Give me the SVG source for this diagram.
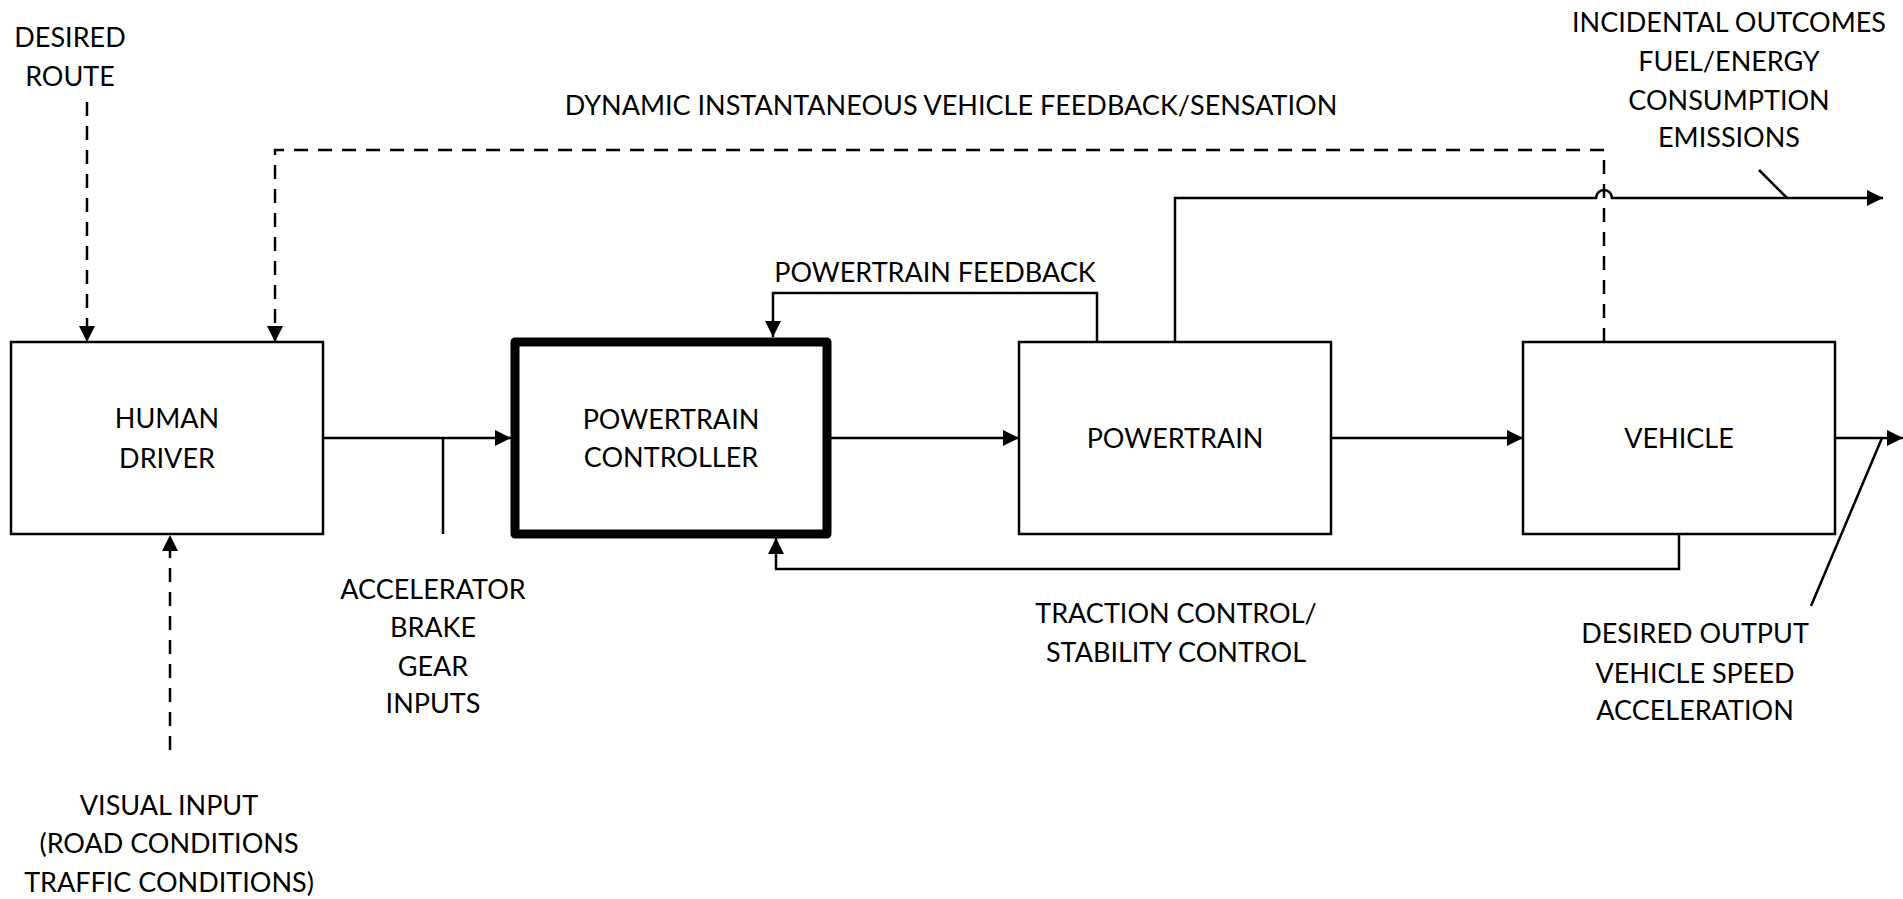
<svg xmlns="http://www.w3.org/2000/svg" width="1903" height="899" viewBox="0 0 1903 899">
<style>
  .box { fill: #fff; stroke: #000; stroke-width: 2.5; }
  .thick { fill: #fff; stroke: #000; stroke-width: 9; stroke-linejoin: round; }
  .ln { fill: none; stroke: #000; stroke-width: 2.5; }
  .dash { fill: none; stroke: #000; stroke-width: 2.5; stroke-dasharray: 14 10; }
  text { font-family: Lato, "Liberation Sans", sans-serif; font-size: 27px; fill: #000; text-anchor: middle; }
</style>
<defs>
  <marker id="arr" markerUnits="userSpaceOnUse" markerWidth="16" markerHeight="16" refX="16" refY="8" orient="auto" viewBox="0 0 16 16">
    <path d="M0,0 L16,8 L0,16 z" fill="#000"/>
  </marker>
</defs>
<rect width="1903" height="899" fill="#fff"/>
<g id="connectors">
  <path class="dash" d="M87,102 V342" marker-end="url(#arr)"/>
  <path class="dash" d="M1604,342 V150 H275 V342" marker-end="url(#arr)"/>
  <path class="dash" d="M170,750 V535" marker-end="url(#arr)"/>
  <path class="ln" d="M323,438 H511" marker-end="url(#arr)"/>
  <path class="ln" d="M443,438 V534"/>
  <path class="ln" d="M831,438 H1019" marker-end="url(#arr)"/>
  <path class="ln" d="M1331,438 H1523" marker-end="url(#arr)"/>
  <path class="ln" d="M1835,438 H1903" marker-end="url(#arr)"/>
  <path class="ln" d="M1882,438 L1811,606"/>
  <path class="ln" d="M1679,534 V569 H776 V538" marker-end="url(#arr)"/>
  <path class="ln" d="M1097,342 V293 H773 V337" marker-end="url(#arr)"/>
  <path class="ln" d="M1175,342 V198 H1596 A8,8 0 0 1 1612,198 H1883" marker-end="url(#arr)"/>
  <path class="ln" d="M1759,170 L1787,198"/>
</g>
<g id="human-driver">
  <rect class="box" x="11" y="342" width="312" height="192"/>
  <text x="167" y="428">HUMAN</text>
  <text x="167" y="468">DRIVER</text>
</g>
<g id="powertrain-controller">
  <rect class="thick" x="515" y="342" width="312" height="192"/>
  <text x="671" y="429">POWERTRAIN</text>
  <text x="671" y="467">CONTROLLER</text>
</g>
<g id="powertrain">
  <rect class="box" x="1019" y="342" width="312" height="192"/>
  <text x="1175" y="448">POWERTRAIN</text>
</g>
<g id="vehicle">
  <rect class="box" x="1523" y="342" width="312" height="192"/>
  <text x="1679" y="448">VEHICLE</text>
</g>
<g id="labels">
  <text x="70" y="47">DESIRED</text>
  <text x="70" y="86">ROUTE</text>
  <text x="951" y="115">DYNAMIC INSTANTANEOUS VEHICLE FEEDBACK/SENSATION</text>
  <text x="1729" y="32">INCIDENTAL OUTCOMES</text>
  <text x="1729" y="71">FUEL/ENERGY</text>
  <text x="1729" y="110">CONSUMPTION</text>
  <text x="1729" y="147">EMISSIONS</text>
  <text x="935" y="282">POWERTRAIN FEEDBACK</text>
  <text x="433" y="599">ACCELERATOR</text>
  <text x="433" y="637">BRAKE</text>
  <text x="433" y="676">GEAR</text>
  <text x="433" y="713">INPUTS</text>
  <text x="169" y="815">VISUAL INPUT</text>
  <text x="169" y="853">(ROAD CONDITIONS</text>
  <text x="169" y="892">TRAFFIC CONDITIONS)</text>
  <text x="1176" y="623">TRACTION CONTROL/</text>
  <text x="1176" y="662">STABILITY CONTROL</text>
  <text x="1695" y="643">DESIRED OUTPUT</text>
  <text x="1695" y="683">VEHICLE SPEED</text>
  <text x="1695" y="720">ACCELERATION</text>
</g>
</svg>
